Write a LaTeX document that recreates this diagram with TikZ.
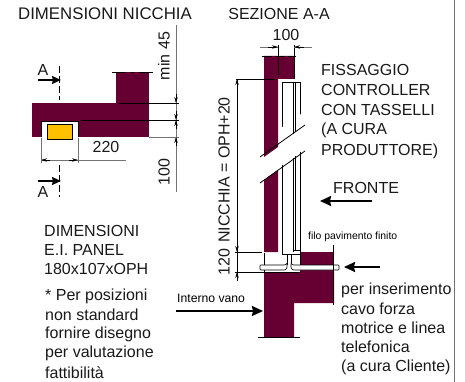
\documentclass[tikz,border=0pt]{standalone}
\usepackage{fontspec}
\setmainfont{Liberation Sans}
\usetikzlibrary{arrows.meta}
\definecolor{wall}{HTML}{660033}
\definecolor{gold}{HTML}{FFC000}
\tikzset{
  x=1pt,y=-1pt,
  dim/.style={line width=0.7pt,black},
  gdim/.style={line width=0.8pt,black!55},
  tipin/.style={-{Stealth[length=6pt,width=3.5pt]}},
  big/.style={line width=2pt,-{Stealth[length=11pt,width=10pt,inset=1pt]}},
  bigA/.style={line width=1.8pt,-{Stealth[length=9pt,width=8pt,inset=1pt]}},
  cut/.style={line width=0.6pt,dash pattern=on 7pt off 3pt},
  txt/.style={font=\fontsize{16}{16}\selectfont,anchor=west,inner sep=0pt,text=black!90},
  ctr/.style={font=\fontsize{16}{16}\selectfont,inner sep=0pt,text=black!90},
  ttl/.style={font=\fontsize{16.8}{17}\selectfont,inner sep=0pt,text=black!90},
  small/.style={font=\fontsize{12.2}{12}\selectfont,anchor=west,inner sep=0pt},
  tiny/.style={font=\fontsize{10.4}{10}\selectfont,anchor=west,inner sep=0pt},
  whitefill/.style={fill=white,draw=black,line width=0.6pt},
}
\begin{document}
\begin{tikzpicture}
\useasboundingbox (0,0) rectangle (465,382);
% ---------- left plan
\node[ttl] (t1) at (105,14) {DIMENSIONI NICCHIA};
\fill[wall] (116,72) rectangle (149,103);
\fill[wall] (32,103) rectangle (149,137);
\fill[white] (41,121) rectangle (78,137.5);
\draw[line width=0.6pt] (41,137) -- (41,121) -- (78,121) -- (78,137);
\draw[line width=0.6pt,fill=gold] (47,124) rectangle (72,139);
\draw[line width=0.7pt,dash pattern=on 14pt off 5pt on 3pt off 5pt] (112,72) -- (153,72);
\coordinate (ta) at (59,66); \coordinate (tb) at (59,100);
\coordinate (ba) at (59,165); \coordinate (bb) at (59,197);
\draw[cut] (ta) -- (tb);
\draw[cut] (ba) -- (bb);
\coordinate (a1) at (38,80); \coordinate (a2) at (61,80);
\coordinate (a3) at (38,181); \coordinate (a4) at (61,181);
\draw[bigA] (a1) -- (a2);
\draw[bigA] (a3) -- (a4);
\node[ctr] (la) at (43,70) {A};
\node[ctr] (lb) at (43,192) {A};
% dims right
\draw[gdim] (176,25) -- (176,192);
\draw[dim] (119,103) -- (179,103);
\draw[dim] (81,120) -- (179,120);
\draw[gdim] (149,137) -- (179,137);
\draw[dim,tipin] (176,94) -- (176,103);
\draw[dim,tipin] (176,129) -- (176,120);
\draw[dim,tipin] (176,111) -- (176,120);
\draw[dim,tipin] (176,146) -- (176,137);
\node[ctr,rotate=90] (m45) at (164,56) {min 45};
\node[ctr,rotate=90] (h100) at (164,172) {100};
% dim 220
\draw[gdim] (41,138) -- (41,163);
\draw[gdim] (78,138) -- (78,163);
\draw[gdim] (41,160) -- (126,160);
\draw[dim,tipin] (50,160) -- (41,160);
\draw[dim,tipin] (69,160) -- (78,160);
\node[ctr] (w220) at (106,147) {220};
% left texts
\node[txt] (d1) at (44,231) {DIMENSIONI};
\node[txt] (d2) at (44,250) {E.I. PANEL};
\node[txt] (d3) at (44,269) {180x107xOPH};
\node[txt] (n1) at (45,296) {* Per posizioni};
\node[txt] (n2) at (45,315) {non standard};
\node[txt] (n3) at (45,334) {fornire disegno};
\node[txt] (n4) at (45,353) {per valutazione};
\node[txt] (n5) at (45,373) {fattibilità};
% ---------- section
\node[ctr] (t2) at (279,14) {SEZIONE A-A};
\node[ctr] (s100) at (286,35) {100};
% wall upper
\fill[wall] (264,56) -- (294,56) -- (294,79) -- (278,79) -- (278,147) -- (264,157) -- cycle;
\fill[wall] (264,180) -- (278,170) -- (278,252) -- (264,252) -- cycle;
\fill[wall] (264,272) -- (334,272) -- (334,303) -- (294,303) -- (294,337) -- (264,337) -- cycle;
\fill[wall] (300,252) -- (334,252) -- (334,272) -- (300,272) -- cycle;
\draw[line width=0.7pt,dash pattern=on 10pt off 3pt] (262,56) -- (296,56);
\draw[line width=0.7pt] (258,337) -- (300,337);
% controller
\draw[line width=0.6pt] (282,82) rectangle (300,142);
\fill[white] (281,128) -- (301,114) -- (301,166) -- (281,180) -- cycle;
\draw[line width=0.6pt] (282,165) -- (282,254) -- (293,254);
\draw[line width=0.6pt] (300,152) -- (300,252);
\draw[line width=1pt] (293,82) -- (293,134);
\draw[line width=1pt] (293,158) -- (293,252);
\draw[line width=0.6pt] (295.5,82) -- (295.5,132);
\draw[line width=0.6pt] (295.5,156) -- (295.5,250);
\draw[line width=0.6pt] (293,250) -- (300,250);
% break lines
\coordinate (b1) at (260,157); \coordinate (b2) at (305,125);
\coordinate (b3) at (260,183); \coordinate (b4) at (305,151);
\draw[line width=0.8pt] (b1) -- (b2);
\draw[line width=0.8pt] (b3) -- (b4);
% floor plate
\draw[line width=0.6pt] (264,253) -- (264,272) (264,272) -- (299,272);
\draw[line width=0.6pt] (287,254) -- (287,265) (291,254) -- (291,265);
\draw[line width=0.6pt] (300,252) -- (300,265);
\draw[line width=0.6pt] (293,254) -- (300,254);
\draw[whitefill,rounded corners=0.8pt] (260,265) -- (285,265) -- (287,263) -- (287,268) -- (285,270) -- (260,270) -- cycle;
\draw[whitefill,rounded corners=0.8pt] (339,265) -- (293,265) -- (291,263) -- (291,268) -- (293,270) -- (339,270) -- cycle;
\draw[line width=0.7pt] (333.5,245) -- (333.5,305);
% top dim 100
\draw[dim] (278,75) -- (278,45);
\draw[dim] (294,79) -- (294,45);
\draw[gdim] (260,47) -- (278,47);
\draw[gdim] (294,47) -- (312,47);
\draw[dim,tipin] (268,47) -- (278,47);
\draw[dim,tipin] (304,47) -- (294,47);
% tall dim
\draw[dim] (236,79) -- (275,79);
\draw[dim] (235,252) -- (262,252);
\draw[dim] (235,272) -- (264,272);
\draw[dim] (237,280) -- (237,79);
\draw[dim,tipin] (237,90) -- (237,79);
\draw[dim,tipin] (237,243) -- (237,252);
\draw[dim,tipin] (237,281) -- (237,272);
\node[ctr,rotate=90] (h1) at (224,262) {120};
\node[ctr,rotate=90] (h2) at (224,170) {NICCHIA = OPH+20};
% right texts
\node[txt] (f1) at (321,70) {FISSAGGIO};
\node[txt] (f2) at (321,90) {CONTROLLER};
\node[txt] (f3) at (321,110) {CON TASSELLI};
\node[txt] (f4) at (321,130) {(A CURA};
\node[txt] (f5) at (321,151) {PRODUTTORE)};
\node[txt] (fr) at (333,188) {FRONTE};
\draw[big] (372,201) -- (320,201);
\node[tiny] (fp) at (308,237) {filo pavimento finito};
\draw[big] (380,267) -- (344,267);
\node[txt] (p1) at (341,290) {per inserimento};
\node[txt] (p2) at (341,309) {cavo forza};
\node[txt] (p3) at (341,328) {motrice e linea};
\node[txt] (p4) at (341,347) {telefonica};
\node[txt] (p5) at (341,367) {(a cura Cliente)};
\node[small] (iv) at (177,298) {Interno vano};
\draw[big] (176,311) -- (263,311);
% border
\draw[line width=1pt,black!55] (454.5,0) -- (454.5,382);
\end{tikzpicture}
\end{document}
